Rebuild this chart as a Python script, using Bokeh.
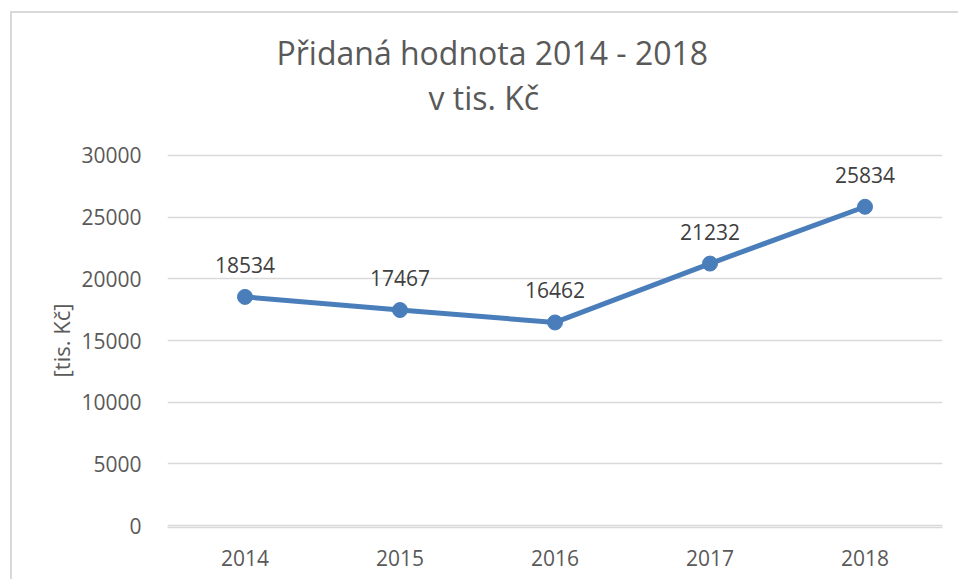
from bokeh.plotting import figure
from bokeh.models import Title, Range1d, FixedTicker, ColumnDataSource
from bokeh.core.properties import value
from bokeh.embed import file_html
from bokeh.resources import INLINE

years = ["2014", "2015", "2016", "2017", "2018"]
values = [18534, 17467, 16462, 21232, 25834]
y_ticks = [0, 5000, 10000, 15000, 20000, 25000, 30000]
title_line1 = "Přidaná hodnota 2014 - 2018"
title_line2 = "v tis. Kč"
y_label = "[tis. Kč]"

FONT = "Open Sans"
LINE = "#4a7ebb"

src = ColumnDataSource(dict(x=years, y=values, lbl=[str(v) for v in values]))

p = figure(width=948, height=568, x_range=years, y_range=Range1d(-150, 30150),
           output_backend="svg", toolbar_location=None, title=None,
           min_border_left=155, min_border_right=18, min_border_bottom=54, min_border_top=140)
p.styles = {"margin-left": "10px", "margin-top": "11px",
            "border-left": "2px solid #d9d9d9", "border-top": "2px solid #d9d9d9"}
p.outline_line_color = None
p.background_fill_color = "white"
p.border_fill_color = "white"

# spacer between the frame and the title lines
gap = Title(text=" ", align="left", text_font=FONT, text_font_size="10px", standoff=19)
t2 = Title(text=title_line2, align="left", text_font=FONT, text_font_size="32px",
           text_color="#595959", text_font_style="normal", standoff=0, offset=261)
t1 = Title(text=title_line1, align="left", text_font=FONT, text_font_size="32px",
           text_color="#595959", text_font_style="normal", standoff=0, offset=109)
p.add_layout(gap, "above")
p.add_layout(t2, "above")
p.add_layout(t1, "above")

p.xgrid.grid_line_color = None
p.ygrid.grid_line_color = "#d9d9d9"
p.ygrid.grid_line_width = 1.5
p.yaxis.ticker = FixedTicker(ticks=y_ticks)

for ax in (p.xaxis, p.yaxis):
    ax.major_tick_line_color = None
    ax.minor_tick_line_color = None
    ax.major_label_text_font = FONT
    ax.major_label_text_font_size = "21px"
    ax.major_label_text_color = "#595959"
p.yaxis.axis_line_color = None
p.xaxis.axis_line_color = "#d9d9d9"
p.xaxis.axis_line_width = 1.5
p.yaxis.major_label_standoff = 20
p.xaxis.major_label_standoff = 16
p.yaxis.axis_label = y_label
p.yaxis.axis_label_text_font = FONT
p.yaxis.axis_label_text_font_size = "22px"
p.yaxis.axis_label_text_font_style = "normal"
p.yaxis.axis_label_text_color = "#595959"
p.yaxis.axis_label_standoff = 2

p.line("x", "y", source=src, line_color=LINE, line_width=5)
p.scatter("x", "y", source=src, size=15, fill_color=LINE, line_color=LINE)
p.text("x", "y", text="lbl", source=src, y_offset=-32, text_align="center",
       text_baseline="middle", text_font=value(FONT), text_font_size="21px",
       text_color="#404040")

open("out.html", "w").write(file_html(p, INLINE))
